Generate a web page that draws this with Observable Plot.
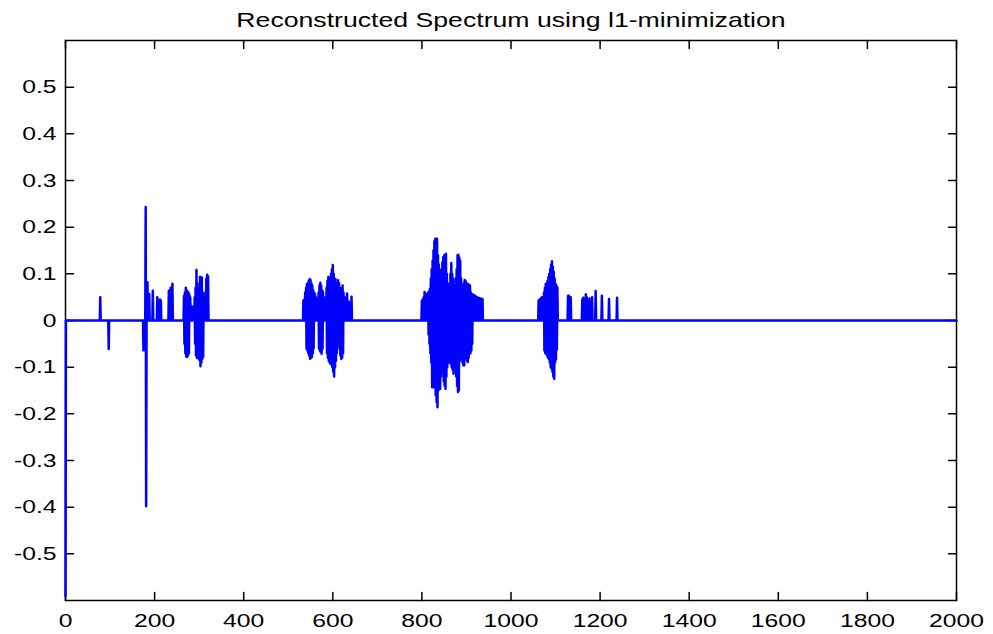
<!DOCTYPE html>
<html>
<head>
<meta charset="utf-8">
<script src="https://cdn.jsdelivr.net/npm/d3@7"></script>
<script src="https://cdn.jsdelivr.net/npm/@observablehq/plot@0.6"></script>
<style>
  body { margin: 0; background: #fff; }
  #chart { width: 993px; height: 634px; }
</style>
</head>
<body>
<div id="chart"></div>
<script>
// ---------- text ----------
const titleText = "Reconstructed Spectrum using l1-minimization";

// ---------- axes ----------
const xDomain = [0, 2000];
const yDomain = [-0.6, 0.6];
const xTicks = [0, 200, 400, 600, 800, 1000, 1200, 1400, 1600, 1800, 2000];
const yTicks = [-0.5, -0.4, -0.3, -0.2, -0.1, 0, 0.1, 0.2, 0.3, 0.4, 0.5];

// ---------- data (sample index -> value, all other samples ~0) ----------
const nSamples = 2000;
const firstIdx = [0];
const firstVal = [-0.59];

// isolated spikes and the cluster near 180-320
const posIdxA = [78, 180, 184, 188, 196, 206, 212, 214, 232, 236, 240,
  266, 268, 270, 272, 274, 276, 278, 280, 284, 290, 292, 294, 296, 298, 300, 302, 304, 306, 308, 310, 312, 314, 316, 318, 320];
const posValA = [0.05, 0.243, 0.082, 0.057, 0.064, 0.05, 0.045, 0.043, 0.064, 0.07, 0.079,
  0.053, 0.06, 0.07, 0.065, 0.062, 0.06, 0.055, 0.05, 0.03, 0.05, 0.07, 0.108, 0.08, 0.06, 0.07, 0.094, 0.09, 0.092, 0.06, 0.05, 0.045, 0.06, 0.09, 0.098, 0.095];
const negIdxA = [97, 175, 177, 181,
  267, 269, 271, 273, 275, 277, 291, 293, 295, 297, 299, 301, 303, 305, 307, 309];
const negValA = [-0.061, -0.064, -0.062, -0.398,
  -0.05, -0.07, -0.077, -0.078, -0.075, -0.07, -0.05, -0.075, -0.08, -0.081, -0.08, -0.085, -0.098, -0.09, -0.082, -0.078];

// cluster near 534-645
const posIdxC = [534, 536, 538, 540, 542, 544, 546, 548, 550, 552, 554, 556, 558, 560, 562, 564, 568, 570, 572, 574, 576, 578, 580, 582, 584, 586, 588, 590, 592, 594, 596, 598, 600, 602, 604, 606, 608, 610, 612, 614, 616, 618, 620, 622, 624, 626, 630, 632, 636, 642];
const posValC = [0.043, 0.045, 0.06, 0.07, 0.078, 0.08, 0.085, 0.089, 0.087, 0.08, 0.075, 0.065, 0.06, 0.057, 0.05, 0.047, 0.06, 0.075, 0.081, 0.075, 0.065, 0.061, 0.05, 0.045, 0.043, 0.07, 0.085, 0.093, 0.09, 0.085, 0.1, 0.11, 0.119, 0.1, 0.09, 0.089, 0.08, 0.075, 0.086, 0.08, 0.07, 0.065, 0.07, 0.075, 0.06, 0.05, 0.05, 0.058, 0.04, 0.051];
const negIdxC = [541, 543, 545, 547, 549, 551, 553, 555, 557, 569, 571, 573, 575, 577, 587, 589, 591, 593, 595, 597, 599, 601, 603, 605, 607, 609, 615, 617, 619, 621, 623];
const negValC = [-0.06, -0.064, -0.07, -0.075, -0.082, -0.08, -0.078, -0.07, -0.06, -0.06, -0.065, -0.068, -0.071, -0.06, -0.07, -0.08, -0.086, -0.09, -0.093, -0.09, -0.1, -0.11, -0.12, -0.1, -0.086, -0.07, -0.06, -0.075, -0.082, -0.08, -0.07];

// cluster near 800-940
const posIdxD = [800, 802, 804, 806, 808, 810, 812, 814, 816, 818, 820, 822, 824, 826, 828, 830, 832, 834, 836, 838, 840, 842, 844, 846, 848, 850, 852, 854, 856, 858, 860, 862, 864, 866, 868, 870, 872, 874, 876, 878, 880, 882, 884, 886, 888, 890, 892, 894, 896, 898, 900, 902, 904, 906, 908, 910, 912, 914, 916, 918, 920, 924, 928, 932, 936];
const posValD = [0.043, 0.045, 0.05, 0.061, 0.058, 0.055, 0.057, 0.06, 0.062, 0.068, 0.09, 0.11, 0.128, 0.15, 0.17, 0.175, 0.175, 0.175, 0.14, 0.12, 0.107, 0.083, 0.11, 0.125, 0.136, 0.14, 0.14, 0.143, 0.1, 0.08, 0.071, 0.061, 0.1, 0.123, 0.1, 0.09, 0.075, 0.061, 0.09, 0.11, 0.14, 0.141, 0.135, 0.128, 0.09, 0.068, 0.075, 0.08, 0.087, 0.085, 0.08, 0.078, 0.078, 0.075, 0.075, 0.06, 0.057, 0.055, 0.055, 0.053, 0.053, 0.05, 0.048, 0.047, 0.046];
const negIdxD = [815, 817, 819, 821, 823, 825, 827, 829, 831, 833, 835, 837, 839, 841, 843, 845, 847, 849, 851, 853, 855, 857, 859, 861, 863, 865, 867, 869, 871, 873, 875, 877, 879, 881, 883, 885, 887, 889, 891, 893, 895, 897, 899, 901, 903, 905, 907, 909, 911, 913];
const negValD = [-0.03, -0.05, -0.07, -0.09, -0.143, -0.143, -0.143, -0.14, -0.16, -0.175, -0.186, -0.15, -0.146, -0.146, -0.12, -0.111, -0.11, -0.13, -0.14, -0.146, -0.12, -0.1, -0.09, -0.085, -0.09, -0.093, -0.1, -0.105, -0.114, -0.1, -0.09, -0.12, -0.14, -0.153, -0.15, -0.086, -0.08, -0.08, -0.09, -0.096, -0.096, -0.08, -0.08, -0.085, -0.089, -0.08, -0.06, -0.07, -0.064, -0.05];

// cluster near 1060-1105 and the spikes up to 1240
const posIdxE = [1062, 1064, 1066, 1068, 1070, 1072, 1074, 1076, 1078, 1080, 1082, 1084, 1086, 1088, 1090, 1092, 1094, 1096, 1098, 1100, 1102, 1104,
  1128, 1130, 1134, 1160, 1162, 1168, 1170, 1176, 1182, 1190, 1204, 1220, 1238];
const posValE = [0.043, 0.045, 0.045, 0.049, 0.05, 0.05, 0.06, 0.07, 0.078, 0.08, 0.085, 0.093, 0.1, 0.11, 0.12, 0.127, 0.115, 0.104, 0.09, 0.078, 0.075, 0.071,
  0.053, 0.053, 0.05, 0.045, 0.049, 0.056, 0.05, 0.047, 0.05, 0.063, 0.053, 0.046, 0.049];
const negIdxE = [1075, 1077, 1079, 1081, 1083, 1085, 1087, 1089, 1091, 1093, 1095, 1097, 1099, 1101, 1103];
const negValE = [-0.064, -0.07, -0.071, -0.075, -0.08, -0.082, -0.09, -0.1, -0.103, -0.11, -0.12, -0.125, -0.09, -0.083, -0.062];

// ---------- build table ----------
const values = new Array(nSamples + 1).fill(0);
[[firstIdx, firstVal], [posIdxA, posValA], [negIdxA, negValA], [posIdxC, posValC], [negIdxC, negValC],
 [posIdxD, posValD], [negIdxD, negValD], [posIdxE, posValE], [negIdxE, negValE]]
  .forEach(([idx, val]) => idx.forEach((k, i) => { values[k] = val[i]; }));
const series = values.map((y, x) => ({x, y}));

const textScale = 1.3;
const tickShape = {draw(ctx, l) { ctx.moveTo(0, 0); ctx.lineTo(0, -l); }};
const fmtY = d => (d < 0 ? "-" : "") + (Math.abs(d) < 1e-9 ? "0" : String(+Math.abs(d).toFixed(1)));

const chart = Plot.plot({
  width: 993,
  height: 634,
  marginLeft: 65,
  marginRight: 37,
  marginTop: 40,
  marginBottom: 34,
  style: {fontFamily: "'Liberation Sans', Arial, sans-serif", fontSize: "19px", color: "black", background: "white"},
  x: {domain: xDomain, label: null},
  y: {domain: yDomain, label: null},
  marks: [
    Plot.frame({stroke: "black", strokeWidth: 1.5}),
    Plot.vector(yTicks, {x: () => xDomain[0], y: d => d, length: 8, rotate: 90, anchor: "start", shape: tickShape, stroke: "black", strokeWidth: 1.5}),
    Plot.vector(yTicks, {x: () => xDomain[1], y: d => d, length: 8, rotate: -90, anchor: "start", shape: tickShape, stroke: "black", strokeWidth: 1.5}),
    Plot.vector(xTicks, {x: d => d, y: () => yDomain[0], length: 8, rotate: 0, anchor: "start", shape: tickShape, stroke: "black", strokeWidth: 1.5}),
    Plot.vector(xTicks, {x: d => d, y: () => yDomain[1], length: 8, rotate: 180, anchor: "start", shape: tickShape, stroke: "black", strokeWidth: 1.5}),
    Plot.axisX({ticks: xTicks, tickSize: 0, tickPadding: 13, tickFormat: d => String(d), fontSize: 19, label: null}),
    Plot.axisY({ticks: yTicks, tickSize: 0, tickPadding: 9, tickFormat: fmtY, fontSize: 19, label: null}),
    Plot.lineY(series, {x: "x", y: "y", stroke: "#0000ff", strokeWidth: 2.5}),
    Plot.text([titleText], {text: d => d, frameAnchor: "top", dy: -28, fontSize: 20.5, fill: "black"})
  ]
});

const svg = chart.tagName.toLowerCase() === "svg" ? chart : chart.querySelector("svg");
svg.querySelectorAll("text").forEach(t => {
  const tr = t.getAttribute("transform");
  if (tr) {
    t.setAttribute("transform", tr + ` scale(${textScale},1)`);
  } else {
    const x = t.getAttribute("x") || 0, y = t.getAttribute("y") || 0;
    t.removeAttribute("x"); t.removeAttribute("y");
    t.setAttribute("transform", `translate(${x},${y}) scale(${textScale},1)`);
  }
});
document.getElementById("chart").appendChild(chart);
</script>
</body>
</html>
